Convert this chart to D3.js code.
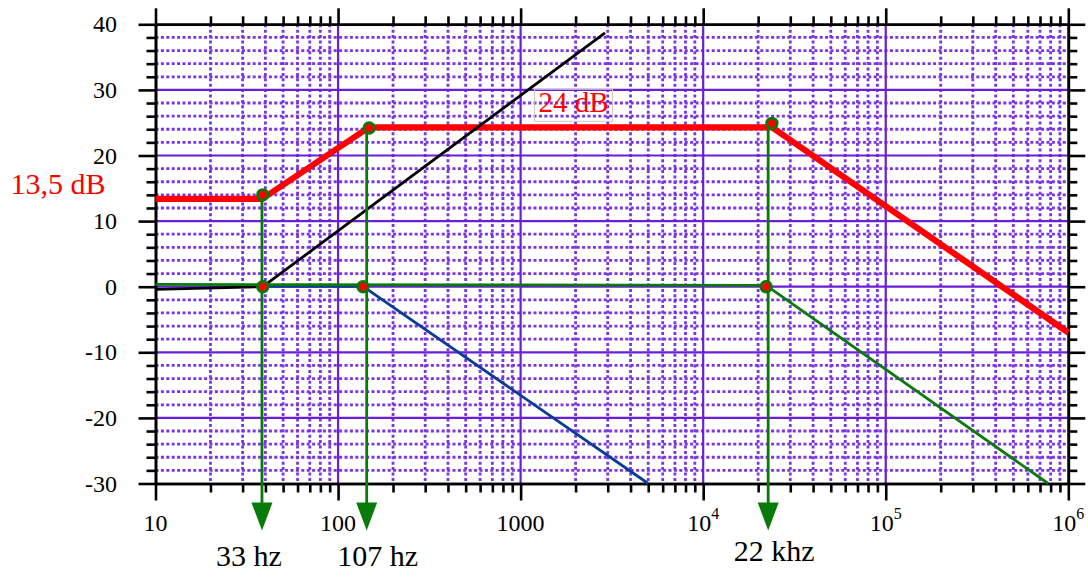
<!DOCTYPE html>
<html>
<head>
<meta charset="utf-8">
<script src="https://cdn.jsdelivr.net/npm/d3@7"></script>
<style>
  body { margin: 0; background: #fff; }
  svg { display: block; font-family: "Liberation Serif", "DejaVu Serif", serif; }
</style>
</head>
<body>
<div id="chart"></div>
<script>
// axis ticks
const freqMajor = [10, 100, 1000, 1e4, 1e5, 1e6];
const freqMult = [2, 3, 4, 5, 6, 7, 8, 9];
const xTickText = ["10", "100", "1000", "10", "10", "10"];
const xTickSup = ["", "", "", "4", "5", "6"];
const dbMajor = [-30, -20, -10, 0, 10, 20, 30, 40];

// response curves (frequency in Hz, gain in dB)
const redFreq = [10, 38.5, 148, 23800, 1e6];
const redDb = [13.4, 13.4, 24.3, 24.3, -7.0];
const blackFreq = [10, 38.7, 2900];
const blackDb = [-0.4, 0, 38.7];
const blueFreq = [38.7, 137, 5000];
const blueDb = [0.05, 0.05, -30];
const greenFreq = [10, 22100, 776000];
const greenDb = [0.35, 0.2, -30];

// corner points
const redPtFreq = [38.7, 148, 23800];
const redPtDb = [14.0, 24.2, 24.9];
const zeroPtFreq = [38.7, 137, 22100];
const zeroPtDb = [0, 0, 0];

// arrows down to the axis
const arrowFreq = [38.3, 143.5, 22700];
const arrowLabels = ["33 hz", "107 hz", "22 khz"];
const arrowLabelDx = [-13, 11, 6];
const arrowLabelDy = [0, 0, -5];

const width = 1088;
const height = 577;
const margin = { top: 24.3, right: 19.7, bottom: 93.5, left: 155.5 };

const svg = d3.select("#chart")
  .append("svg")
  .attr("width", width)
  .attr("height", height);

const x = d3.scaleLog()
  .domain([10, 1e6])
  .range([margin.left, width - margin.right]);

const y = d3.scaleLinear()
  .domain([-30, 40])
  .range([height - margin.bottom, margin.top]);

const freqMinor = [];
freqMajor.slice(0, -1).forEach(d => freqMult.forEach(m => freqMinor.push(d * m)));
const dbMinor = d3.range(-28, 40, 2).filter(d => d % 10 !== 0);

const purple = "#6a1ed8";
const dotted = "#7a36e6";

// grid
const grid = svg.append("g");
grid.selectAll(".vmin").data(freqMinor).join("line")
  .attr("x1", d => x(d)).attr("x2", d => x(d))
  .attr("y1", y(40)).attr("y2", y(-30))
  .attr("stroke", dotted).attr("stroke-width", 2.8)
  .attr("stroke-dasharray", "3,2.4");
grid.selectAll(".hmin").data(dbMinor).join("line")
  .attr("x1", x(10)).attr("x2", x(1e6))
  .attr("y1", d => y(d)).attr("y2", d => y(d))
  .attr("stroke", dotted).attr("stroke-width", 2.8)
  .attr("stroke-dasharray", "3,2.4");
grid.selectAll(".vmaj").data(freqMajor.slice(1, -1)).join("line")
  .attr("x1", d => x(d)).attr("x2", d => x(d))
  .attr("y1", y(40)).attr("y2", y(-30))
  .attr("stroke", purple).attr("stroke-width", 2.2);
grid.selectAll(".hmaj").data(dbMajor.slice(1, -1)).join("line")
  .attr("x1", x(10)).attr("x2", x(1e6))
  .attr("y1", d => y(d)).attr("y2", d => y(d))
  .attr("stroke", purple).attr("stroke-width", 2.2);

// axes (frame with outward ticks on every side)
function styleAxis(g) {
  g.select(".domain").attr("stroke", "#000").attr("stroke-width", 2.6);
  g.selectAll(".tick line").attr("stroke", "#000").attr("stroke-width", 2.6);
  g.selectAll(".tick text").remove();
}
const bottom = height - margin.bottom;
const right = width - margin.right;

svg.append("g").attr("transform", `translate(0,${bottom})`)
  .call(d3.axisBottom(x).tickValues(freqMinor).tickSize(9).tickSizeOuter(0)).call(styleAxis);
svg.append("g").attr("transform", `translate(0,${bottom})`)
  .call(d3.axisBottom(x).tickValues(freqMajor).tickSize(17).tickSizeOuter(0)).call(styleAxis);
svg.append("g").attr("transform", `translate(0,${margin.top})`)
  .call(d3.axisTop(x).tickValues(freqMinor).tickSize(8).tickSizeOuter(0)).call(styleAxis);
svg.append("g").attr("transform", `translate(0,${margin.top})`)
  .call(d3.axisTop(x).tickValues(freqMajor).tickSize(16).tickSizeOuter(0)).call(styleAxis);
svg.append("g").attr("transform", `translate(${margin.left},0)`)
  .call(d3.axisLeft(y).tickValues(dbMinor).tickSize(9).tickSizeOuter(0)).call(styleAxis);
svg.append("g").attr("transform", `translate(${margin.left},0)`)
  .call(d3.axisLeft(y).tickValues(dbMajor).tickSize(17).tickSizeOuter(0)).call(styleAxis);
svg.append("g").attr("transform", `translate(${right},0)`)
  .call(d3.axisRight(y).tickValues(dbMinor).tickSize(9).tickSizeOuter(0)).call(styleAxis);
svg.append("g").attr("transform", `translate(${right},0)`)
  .call(d3.axisRight(y).tickValues(dbMajor).tickSize(17).tickSizeOuter(0)).call(styleAxis);

// tick labels
svg.append("g").selectAll("text").data(dbMajor).join("text")
  .attr("x", margin.left - 38.5)
  .attr("y", d => y(d) + 8)
  .attr("text-anchor", "end")
  .attr("font-size", 24)
  .text(d => d);

const xl = svg.append("g").selectAll("text").data(freqMajor).join("text")
  .attr("x", d => x(d))
  .attr("y", bottom + 47.5)
  .attr("text-anchor", "middle")
  .attr("font-size", 24);
xl.append("tspan").text((d, i) => xTickText[i]);
xl.append("tspan")
  .attr("dy", -12)
  .attr("font-size", 16)
  .text((d, i) => xTickSup[i]);

// curves
const line = d3.line().x(d => x(d[0])).y(d => y(d[1]));
const curve = (f, v, color, w) => svg.append("path")
  .datum(f.map((d, i) => [d, v[i]]))
  .attr("d", line)
  .attr("fill", "none")
  .attr("stroke", color)
  .attr("stroke-width", w)
  .attr("stroke-linejoin", "round");

curve(redFreq, redDb, "#ff0000", 6.2);
curve(blackFreq, blackDb, "#000", 2.8);
curve(blueFreq, blueDb, "#0b3c95", 2.8);
curve(greenFreq, greenDb, "#0a7a0a", 2.8);

// arrows
const green = "#087a08";
svg.append("g").selectAll("line").data(arrowFreq).join("line")
  .attr("x1", d => x(d)).attr("x2", d => x(d))
  .attr("y1", (d, i) => y(redPtDb[i]))
  .attr("y2", bottom + 22)
  .attr("stroke", green).attr("stroke-width", 2.8);
svg.append("g").selectAll("path").data(arrowFreq).join("path")
  .attr("d", d => {
    const cx = x(d), top = bottom + 19, tip = bottom + 47;
    return `M${cx - 10.5},${top}L${cx + 10.5},${top}L${cx},${tip}Z`;
  })
  .attr("fill", green);

svg.append("g").selectAll("text").data(arrowFreq).join("text")
  .attr("x", (d, i) => x(d) + arrowLabelDx[i])
  .attr("y", (d, i) => bottom + 82 + arrowLabelDy[i])
  .attr("text-anchor", "middle")
  .attr("font-size", 30)
  .text((d, i) => arrowLabels[i]);

// corner markers
const pts = redPtFreq.map((d, i) => [d, redPtDb[i]])
  .concat(zeroPtFreq.map((d, i) => [d, zeroPtDb[i]]));
svg.append("g").selectAll("circle").data(pts).join("circle")
  .attr("cx", d => x(d[0]))
  .attr("cy", d => y(d[1]))
  .attr("r", 5.3)
  .attr("fill", "#ff0000")
  .attr("stroke", green)
  .attr("stroke-width", 2.8);

// annotations
svg.append("text")
  .attr("x", margin.left - 50)
  .attr("y", y(13.5) - 4)
  .attr("text-anchor", "end")
  .attr("font-size", 30)
  .attr("fill", "#ff0000")
  .text("13,5 dB");

const lbl = svg.append("g");
lbl.append("rect")
  .attr("x", x(1950) - 39).attr("y", y(24.3) - 38)
  .attr("width", 78).attr("height", 32)
  .attr("fill", "none")
  .attr("stroke", "#c8c8c8").attr("stroke-width", 1);
lbl.append("text")
  .attr("x", x(1950))
  .attr("y", y(24.3) - 15.5)
  .attr("text-anchor", "middle")
  .attr("font-size", 29)
  .attr("fill", "#ff0000")
  .text("24 dB");
</script>
</body>
</html>
